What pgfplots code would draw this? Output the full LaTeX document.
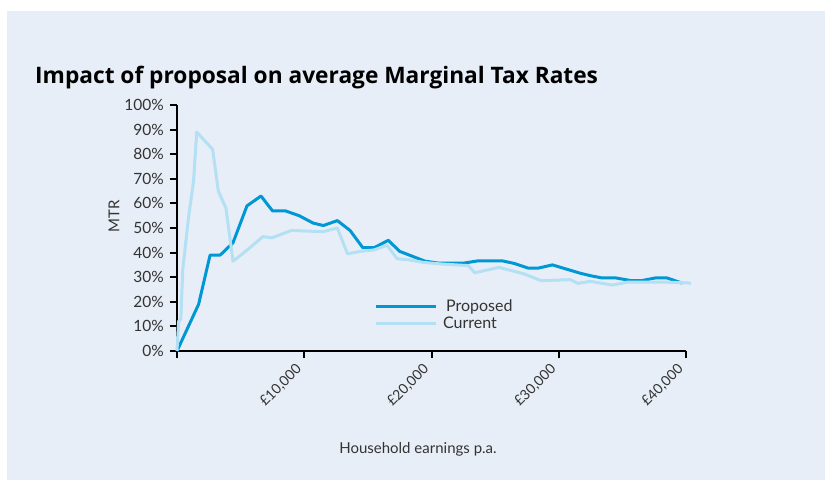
\documentclass[border=0pt]{standalone}
\usepackage{fontspec}
\setmainfont{Lato}
\newfontfamily\titlefont{Open Sans}
\usepackage{pgfplots}
\pgfplotsset{compat=1.18}
\definecolor{bg}{HTML}{E8EEF7}
\definecolor{prop}{HTML}{0098D4}
\definecolor{curr}{HTML}{B3E0F2}
\definecolor{txt}{HTML}{333333}
\begin{document}
\begin{tikzpicture}[x=1pt,y=1pt]
\useasboundingbox (0,0) rectangle (825,480);
\fill[white] (0,0) rectangle (825,480);
\fill[bg] (7,0) rectangle (825,469);
\node[anchor=base west,inner sep=0pt] at (35,396.5) {\titlefont\bfseries\fontsize{22.7}{26}\selectfont Impact of proposal on average Marginal Tax Rates};
\node[anchor=base,inner sep=0pt,text=txt] at (418,27) {\fontsize{15}{18}\selectfont Household earnings p.a.};
\node[rotate=90,inner sep=0pt,text=txt] at (114,264) {\fontsize{15}{18}\selectfont MTR};
\begin{axis}[
  at={(177pt,129pt)}, anchor=south west,
  scale only axis, width=509pt, height=246pt,
  xmin=0, xmax=40000, ymin=0, ymax=100,
  clip=false,
  scaled x ticks=false,
  axis x line=bottom, axis y line=left,
  axis line style={-, line width=2.5pt, black},
  tick align=outside,
  major tick length=7pt,
  tick style={line width=2pt, black},
  xtick={0,10000,20000,30000,40000},
  xticklabels={,£10{,}000,£20{,}000,£30{,}000,£40{,}000},
  ytick={0,10,...,100},
  yticklabel={\pgfmathprintnumber{\tick}\%},
  /pgf/number format/assume math mode=true,
  ticklabel style={text=txt},
  yticklabel style={font=\fontsize{15.5}{17}\selectfont, inner sep=0pt, xshift=-6pt},
  xticklabel style={font=\fontsize{14}{16}\selectfont, rotate=45, anchor=east, inner sep=0pt, xshift=-10pt, yshift=-3pt},
  legend style={draw=none, fill=none, at={(0.381,0.225)}, anchor=north west,
    font=\fontsize{16}{18}\selectfont, text=txt, row sep=0pt,
    nodes={inner ysep=2pt, inner xsep=0pt}},
  legend cell align=left,
  legend image code/.code={\draw[#1] (0pt,0pt) -- (60pt,0pt);},
]
\addplot[prop, line width=3pt, line join=round] coordinates {
(0,0) (1700,19) (2600,39) (3400,39) (4400,44) (5500,59) (6600,63) (7500,57)
(8500,57) (9600,55) (10700,52) (11500,51) (12600,53) (13600,49) (14600,42)
(15500,42) (16600,45) (17500,40.5) (18500,38.5) (19500,36.5) (20600,35.7)
(22500,35.7) (23600,36.6) (25600,36.6) (26500,35.6) (27600,33.7) (28400,33.7)
(29500,35) (30600,33.3) (31700,31.6) (32500,30.6) (33400,29.7) (34500,29.7)
(35700,28.6) (36500,28.6) (37600,29.7) (38500,29.7) (39700,27.6)
};
\addlegendentry{\hspace{9pt}Proposed}
\addplot[curr, line width=3pt, line join=round] coordinates {
(0,0) (120,12) (300,13) (450,33) (900,54) (1300,69) (1550,89) (2800,82)
(3250,65) (3850,58) (4400,36.5) (5500,41) (6750,46.5) (7450,46) (9000,49)
(11500,48.5) (12600,50) (13400,39.5) (14400,40.5) (15500,41.1) (16500,43)
(17300,37.5) (18300,37) (19400,36) (20700,35.4) (22900,34.7) (23400,31.8)
(25300,34) (27300,31.3) (28600,28.6) (30900,29) (31500,27.5) (32500,28.3)
(34200,26.8) (35400,28) (38300,28) (40400,27.6)
};
\addlegendentry{\hspace{6pt}Current}
\end{axis}
\end{tikzpicture}
\end{document}
